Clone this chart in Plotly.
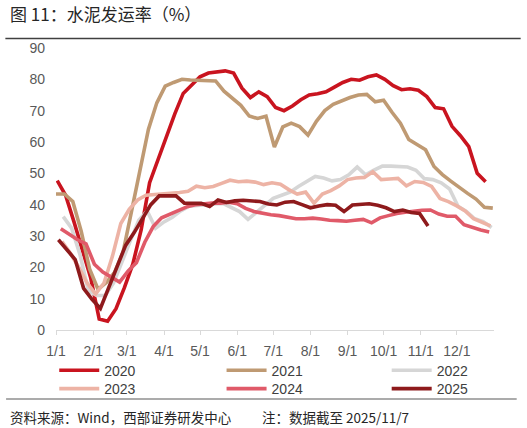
import pandas as pd
import plotly.graph_objects as go

# ---- data (weekly, mapped onto one reference calendar year) ----
years = ["2020", "2021", "2022", "2023", "2024", "2025"]
start_dates = {
    "2020": "2021-01-02",
    "2021": "2021-01-01",
    "2022": "2021-01-07",
    "2023": "2021-01-06",
    "2024": "2021-01-05",
    "2025": "2021-01-03",
}

v2020 = [47.7, 43.0, 34.5, 25.5, 16.5, 3.5, 2.8, 6.8, 13.5, 21.0,
         32.0, 47.0, 54.5, 61.5, 69.0, 75.5, 78.0, 80.8, 82.0, 82.4,
         82.7, 82.0, 77.2, 74.2, 76.0, 74.5, 71.0, 70.0, 71.5, 73.5,
         75.0, 75.4, 76.0, 77.5, 79.0, 80.0, 79.7, 80.8, 81.4, 80.0,
         78.0, 76.7, 77.0, 76.5, 74.5, 71.0, 70.6, 65.0, 62.0, 58.5,
         50.0, 47.3]
v2021 = [43.4, 43.4, 41.0, 31.5, 19.5, 13.0, 15.2, 18.5, 25.0, 38.0,
         51.0, 64.0, 72.5, 77.8, 79.0, 80.0, 79.8, 79.7, 79.7, 79.5,
         76.2, 73.8, 71.7, 68.3, 67.5, 68.2, 58.4, 64.8, 66.0, 64.9,
         62.2, 66.6, 70.0, 72.0, 73.2, 74.2, 75.0, 75.2, 72.8, 73.3,
         69.5, 66.0, 60.8, 59.3, 57.5, 52.2, 49.6, 47.5, 45.4, 43.6,
         41.8, 39.2, 38.9]
v2022 = [36.2, 32.5, 24.0, 12.5, 11.0, 11.0, 15.0, 22.0, 28.5, 35.0,
         38.0, 32.5, 34.5, 36.0, 38.0, 39.5, 39.8, 39.9, 40.2, 40.4,
         39.0, 37.8, 35.3, 37.5, 40.0, 42.0, 43.0, 44.0, 45.8, 47.5,
         49.0, 48.5, 47.6, 48.0, 49.5, 52.0, 49.5, 51.0, 52.3, 52.3,
         52.2, 52.0, 51.0, 48.3, 48.0, 47.0, 45.0, 39.5, 37.8, 35.5,
         34.6, 32.7]
v2023 = [28.2, 24.5, 20.0, 15.0, 11.5, 15.0, 23.5, 34.0, 38.5, 41.5,
         43.0, 43.2, 43.5, 43.7, 43.9, 44.3, 45.9, 45.4, 45.8, 46.8,
         47.8, 47.3, 47.5, 47.2, 46.4, 47.0, 46.5, 44.8, 43.4, 44.0,
         40.5, 43.4, 44.5, 46.0, 48.0, 48.5, 48.7, 50.5, 48.0, 48.2,
         48.4, 46.0, 47.4, 47.1, 45.8, 42.0, 41.0, 39.6, 38.0, 35.5,
         34.4, 33.2]
v2024 = [32.3, 30.4, 28.8, 27.5, 21.0, 18.5, 17.0, 15.3, 18.8, 21.5,
         28.0, 33.0, 35.8, 37.0, 38.2, 39.3, 40.0, 40.3, 40.5, 40.5,
         40.8, 40.3, 38.8, 37.8, 37.2, 36.8, 36.5, 36.1, 35.5, 35.5,
         35.7, 35.4, 35.0, 34.9, 34.7, 35.0, 35.3, 34.2, 35.8, 36.5,
         37.2, 37.6, 38.0, 38.2, 38.3, 37.0, 36.3, 36.3, 33.6, 32.6,
         31.9, 31.3]
v2025 = [28.8, 25.6, 22.5, 13.3, 9.8, 6.9, 13.5, 20.5, 27.0, 31.0,
         35.5, 40.0, 42.8, 42.8, 42.8, 40.5, 40.5, 40.4, 39.4, 41.5,
         40.7, 41.2, 41.4, 41.2, 41.0, 40.2, 39.9, 40.8, 41.0, 40.0,
         39.0, 39.6, 40.0, 39.8, 37.8, 39.9, 40.0, 40.3, 39.8, 39.0,
         37.8, 38.3, 37.5, 37.2, 33.2]

values = {"2020": v2020, "2021": v2021, "2022": v2022,
          "2023": v2023, "2024": v2024, "2025": v2025}
colors = {"2020": "#C9141F", "2021": "#BF9A73", "2022": "#D6D6D6",
          "2023": "#EDB3A5", "2024": "#E05A69", "2025": "#8E1A1C"}
legend_of = {"2020": "legend", "2021": "legend2", "2022": "legend3",
             "2023": "legend4", "2024": "legend5", "2025": "legend6"}

tick_vals = pd.date_range("2021-01-01", "2021-12-01", freq="MS")
tick_text = ["1/1", "2/1", "3/1", "4/1", "5/1", "6/1",
             "7/1", "8/1", "9/1", "10/1", "11/1", "12/1"]

fig = go.Figure()
for y in years:
    vals = values[y]
    dates = pd.date_range(start_dates[y], periods=len(vals), freq="7D")
    fig.add_trace(go.Scatter(
        x=dates, y=vals, mode="lines", name=y,
        line=dict(color=colors[y], width=3.6),
        legend=legend_of[y],
    ))

FONT = "Liberation Sans, Arial, Noto Sans CJK SC, sans-serif"
CJK = "Noto Sans CJK SC, sans-serif"


def leg(x, y):
    return dict(orientation="v", yanchor="middle", y=y, xanchor="left", x=x,
                font=dict(size=14, color="#404040", family=FONT),
                bgcolor="rgba(0,0,0,0)", itemwidth=40)


r1, r2 = -0.1443, -0.2092
c1, c2, c3 = -0.004, 0.378, 0.755

fig.update_layout(
    width=527, height=428,
    margin=dict(l=56, r=33, t=48, b=98),
    paper_bgcolor="white", plot_bgcolor="white",
    font=dict(family=FONT, color="#595959"),
    showlegend=True,
    legend=leg(c1, r1), legend2=leg(c2, r1), legend3=leg(c3, r1),
    legend4=leg(c1, r2), legend5=leg(c2, r2), legend6=leg(c3, r2),
    xaxis=dict(
        type="date", range=["2021-01-01", "2022-01-01"],
        tickvals=tick_vals, ticktext=tick_text,
        showgrid=False, showline=True, linecolor="#D9D9D9", linewidth=1,
        ticks="outside", ticklen=4, tickcolor="#D9D9D9",
        tickfont=dict(size=14, color="#595959"),
        ticklabelstandoff=4,
        zeroline=False,
    ),
    yaxis=dict(
        range=[0, 90], dtick=10, showgrid=False, showline=False,
        zeroline=False, ticks="", tickfont=dict(size=14, color="#595959"),
        ticklabelstandoff=10,
    ),
    shapes=[
        dict(type="line", xref="paper", yref="paper",
             x0=-0.1156, x1=1.0609, y0=1.0337, y1=1.0337,
             line=dict(color="#404040", width=1.5)),
        dict(type="line", xref="paper", yref="paper",
             x0=-0.114, x1=1.0518, y0=-0.2447, y1=-0.2447,
             line=dict(color="#595959", width=1.2)),
    ],
    annotations=[
        dict(text="图 11：水泥发运率（%）", xref="paper", yref="paper",
             x=-0.1088, y=1.1206, xanchor="left", yanchor="middle",
             showarrow=False,
             font=dict(size=17, color="#262626", family=CJK)),
        dict(text="资料来源：Wind，西部证券研发中心", xref="paper", yref="paper",
             x=-0.109, y=-0.3085, xanchor="left", yanchor="middle",
             showarrow=False,
             font=dict(size=13.5, color="#262626", family=CJK)),
        dict(text="注：数据截至 2025/11/7", xref="paper", yref="paper",
             x=0.4657, y=-0.3085, xanchor="left", yanchor="middle",
             showarrow=False,
             font=dict(size=13.5, color="#262626", family=CJK)),
    ],
)

fig.write_html("out.html",
               config={"displayModeBar": False},
               post_script="document.body.style.margin='0';")
